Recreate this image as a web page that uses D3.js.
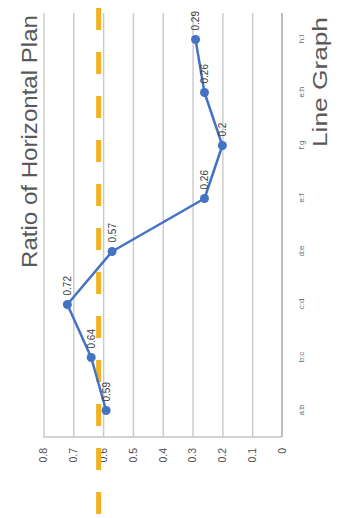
<!DOCTYPE html>
<html>
<head>
<meta charset="utf-8">
<script src="https://cdn.jsdelivr.net/npm/d3@7"></script>
<style>
  html, body { margin: 0; padding: 0; background: #fff; }
  svg { display: block; font-family: "Liberation Sans", Arial, sans-serif; }
</style>
</head>
<body>
<script>
// Ratio series, one value per adjacent pair
const categories = ["a:b", "b:c", "c:d", "d:e", "e:f", "f:g", "e:h", "h:i"];
const ratios = [0.59, 0.64, 0.72, 0.57, 0.26, 0.2, 0.26, 0.29];
const valueTicks = [0, 0.1, 0.2, 0.3, 0.4, 0.5, 0.6, 0.7, 0.8];
const tickLabels = ["0", "0.1", "0.2", "0.3", "0.4", "0.5", "0.6", "0.7", "0.8"];
const referenceLevel = [0.615];
const titleText = "Ratio of Horizontal Plan";
const subtitleText = "Line Graph";

const screenW = 340, screenH = 518;
// The chart is laid out in its own frame (W wide, H tall) and turned a quarter turn.
const W = screenH, H = screenW;

const svg = d3.select("body").append("svg")
  .attr("width", screenW).attr("height", screenH);

const g = svg.append("g")
  .attr("transform", `translate(0,${screenH}) rotate(-90)`);

const x = d3.scalePoint().domain(categories).range([81, 505]).padding(0.5);
const y = d3.scaleLinear().domain([0, 0.8]).range([282, 43.5]);

// gridlines
const grid = g.append("g").attr("transform", "translate(81,0)")
  .call(d3.axisLeft(y).tickValues(valueTicks.slice(1)).tickSize(-(505 - 81)).tickFormat(""));
grid.select(".domain").remove();
grid.selectAll("line").attr("stroke", "#c9c9c9").attr("stroke-width", 1.4);

// frame lines: zero line and the leading edge
g.append("line")
  .attr("x1", 81).attr("x2", 505).attr("y1", y(0)).attr("y2", y(0))
  .attr("stroke", "#bdbdbd").attr("stroke-width", 2);
g.append("line")
  .attr("x1", 81).attr("x2", 81).attr("y1", y(0.8)).attr("y2", y(0))
  .attr("stroke", "#c4c4c4").attr("stroke-width", 1.6);

// value tick labels
const yAxis = g.append("g").attr("transform", "translate(70,0)")
  .call(d3.axisLeft(y).tickValues(valueTicks).tickSize(0).tickPadding(0)
    .tickFormat((d, i) => tickLabels[i]));
yAxis.select(".domain").remove();
yAxis.selectAll("text")
  .attr("font-size", 10.5).attr("fill", "#4d4d4d")
  .attr("font-family", "'Liberation Sans', Arial, sans-serif");

// category labels
const xAxis = g.append("g").attr("transform", `translate(0,${y(0)})`)
  .call(d3.axisBottom(x).tickSize(0).tickPadding(16));
xAxis.select(".domain").remove();
xAxis.selectAll("text")
  .attr("font-size", 8).attr("fill", "#6a6a6a")
  .attr("font-family", "'Liberation Sans', Arial, sans-serif");

// reference level
g.selectAll(".ref").data(referenceLevel).enter().append("line")
  .attr("class", "ref")
  .attr("x1", 510).attr("x2", 0)
  .attr("y1", d => y(d)).attr("y2", d => y(d))
  .attr("stroke", "#f0b21e").attr("stroke-width", 5)
  .attr("stroke-dasharray", "22,22");

// series line
const pts = categories.map((c, i) => ({ c, v: ratios[i] }));
g.append("path").datum(pts)
  .attr("fill", "none").attr("stroke", "#4472c4").attr("stroke-width", 2.5)
  .attr("stroke-linejoin", "round")
  .attr("d", d3.line().x(d => x(d.c)).y(d => y(d.v)));

g.selectAll(".dot").data(pts).enter().append("circle")
  .attr("class", "dot")
  .attr("cx", d => x(d.c)).attr("cy", d => y(d.v)).attr("r", 4.5)
  .attr("fill", "#4472c4");

// value labels
g.selectAll(".val").data(pts).enter().append("text")
  .attr("class", "val")
  .attr("x", d => x(d.c) + 9).attr("y", d => y(d.v))
  .attr("dy", "0.35em")
  .attr("font-size", 10).attr("fill", "#404040")
  .text(d => String(d.v));

// titles
g.append("text")
  .attr("x", 503).attr("y", 37)
  .attr("text-anchor", "end")
  .attr("font-size", 22).attr("fill", "#595959")
  .attr("textLength", 253).attr("lengthAdjust", "spacingAndGlyphs")
  .text(titleText);

g.append("text")
  .attr("x", 501).attr("y", 327)
  .attr("text-anchor", "end")
  .attr("font-size", 20).attr("fill", "#595959")
  .attr("textLength", 130).attr("lengthAdjust", "spacingAndGlyphs")
  .text(subtitleText);
</script>
</body>
</html>
